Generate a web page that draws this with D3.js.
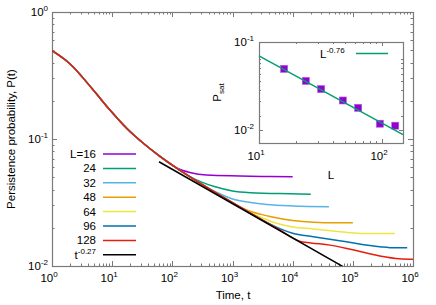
<!DOCTYPE html>
<html><head><meta charset="utf-8">
<script src="https://cdn.jsdelivr.net/npm/d3@7"></script>
<style>body{margin:0;background:#fff}svg{display:block}text{font-family:"Liberation Sans",Arial,sans-serif;fill:#000}</style>
</head><body><svg id="c" width="436" height="305"></svg>
<script>
// ---- data ----
const seriesLabels = ["L=16","24","32","48","64","96","128"];
const seriesColors = ["#9400d3","#009e73","#56b4e9","#e69f00","#f0e442","#0072b2","#e51e10"];
// shared early-time curve (all sizes coincide)
const commonCurve = [[1,0.496],[2,0.39],[4.85,0.243],[9.2,0.169],[17.4,0.1214],[32.9,0.0925],[62.2,0.073],[118,0.0591],[200,0.0502],[371,0.0418],[700,0.0349],[1325,0.0292],[3000,0.0233],[6130,0.0192],[13000,0.01567]];
const departT = [118,200,400,1400,2000,3500,13000];
const tail16 = [[196,0.0545],[371,0.052],[1325,0.0511],[3000,0.0507],[10000,0.0505]];
const tail24 = [[300,0.046],[500,0.0422],[1000,0.039],[2000,0.0378],[9000,0.037],[20000,0.0367]];
const tail32 = [[600,0.0372],[1000,0.0337],[2000,0.0316],[3700,0.0305],[10000,0.0297],[40000,0.0293]];
const tail48 = [[1950,0.027],[3000,0.0255],[4200,0.0245],[10000,0.0228],[17000,0.0223],[40000,0.0219],[100000,0.0219]];
const tail64 = [[3000,0.0241],[5400,0.0217],[10000,0.0203],[22000,0.0196],[78000,0.0184],[200000,0.018],[500000,0.018]];
const tail96 = [[6130,0.0197],[10000,0.0181],[22000,0.017],[78500,0.0155],[280000,0.0142],[500000,0.0139],[800000,0.0139]];
const tail128 = [[20000,0.0152],[41700,0.0146],[100000,0.0134],[280000,0.012],[600000,0.0114],[1000000,0.0113]];
const tails = [tail16,tail24,tail32,tail48,tail64,tail96,tail128];
const mainFit = {amp:0.2, exp:-0.27, tMin:60, label:"t", sup:"-0.27"};
// inset
const insetL = [16,24,32,48,64,96,128];
const insetPsat = [0.0497,0.0363,0.0293,0.0218,0.018,0.0119,0.0113];
const insetFit = {amp:0.40, exp:-0.76};
const xMajor = [1,10,100,1e3,1e4,1e5,1e6];
const xMajorExp = ["0","1","2","3","4","5","6"];
const yMajor = [0.01,0.1,1];
const yMajorExp = ["-2","-1","0"];

// ---- drawing ----
const svg = d3.select("#c");
const FONT = 11.5, SUP = 8;
const M = {l:52, r:413, t:12, b:266};
const x = d3.scaleLog().domain([1,1e6]).range([M.l,M.r]);
const y = d3.scaleLog().domain([0.01,1]).range([M.b,M.t]);
const border = "#7a7a7a";

function minors(lo, hi){ const out=[]; for(let d=lo; d<hi; d*=10){ for(let k=2;k<=9;k++){ const v=d*k; if(v<hi) out.push(v);} } return out; }

function frame(g, xs, ys, xdom, ydom, majLen, minLen){
  const [x0,x1]=xs.range(), [y0,y1]=ys.range();
  const xmin = minors(xdom[0], xdom[1]*1.0001).filter(v=>v>=xdom[0]&&v<=xdom[1]);
  const ymin = minors(ydom[0]/10, ydom[1]).filter(v=>v>=ydom[0]&&v<=ydom[1]);
  const xmaj = d3.range(Math.ceil(Math.log10(xdom[0])-1e-9), Math.floor(Math.log10(xdom[1])+1e-9)+1).map(e=>Math.pow(10,e));
  const ymaj = d3.range(Math.ceil(Math.log10(ydom[0])-1e-9), Math.floor(Math.log10(ydom[1])+1e-9)+1).map(e=>Math.pow(10,e));
  const tg = g.append("g").attr("stroke",border).attr("stroke-width",1);
  const xt = xmaj.map(v=>[v,majLen]).concat(xmin.map(v=>[v,minLen]));
  const yt = ymaj.map(v=>[v,majLen]).concat(ymin.map(v=>[v,minLen]));
  xt.forEach(([v,l])=>{ const px=Math.round(xs(v))+0.5;
    tg.append("line").attr("x1",px).attr("x2",px).attr("y1",y0).attr("y2",y0-l);
    tg.append("line").attr("x1",px).attr("x2",px).attr("y1",y1).attr("y2",y1+l); });
  yt.forEach(([v,l])=>{ const py=Math.round(ys(v))+0.5;
    tg.append("line").attr("y1",py).attr("y2",py).attr("x1",x0).attr("x2",x0+l);
    tg.append("line").attr("y1",py).attr("y2",py).attr("x1",x1).attr("x2",x1-l); });
  g.append("rect").attr("x",x0+0.5).attr("y",y1+0.5).attr("width",x1-x0).attr("height",y0-y1)
    .attr("fill","none").attr("stroke",border).attr("stroke-width",1.2);
}

function powLabel(g, px, py, exp, anchor){
  const t = g.append("text").attr("x",px).attr("y",py).attr("text-anchor",anchor).attr("font-size",FONT);
  t.append("tspan").text("10");
  t.append("tspan").attr("font-size",SUP).attr("dy",-5).text(exp);
  return t;
}

// main frame
const gm = svg.append("g");
gm.append("rect").attr("x",M.l).attr("y",M.t).attr("width",M.r-M.l).attr("height",M.b-M.t).attr("fill","#fff");
frame(gm, x, y, [1,1e6], [0.01,1], 5, 2.5);

// curves
const clip = svg.append("clipPath").attr("id","clipMain").append("rect")
  .attr("x",M.l).attr("y",M.t).attr("width",M.r-M.l).attr("height",M.b-M.t);
const line = d3.line().x(d=>x(d[0])).y(d=>y(d[1])).curve(d3.curveMonotoneX);
const gc = svg.append("g").attr("clip-path","url(#clipMain)");
tails.forEach((tail,i)=>{
  const pts = commonCurve.filter(p=>p[0]<=departT[i]).concat(tail.filter(p=>p[0]>departT[i]));
  gc.append("path").attr("d",line(pts)).attr("fill","none").attr("stroke",seriesColors[i]).attr("stroke-width",1.5);
});
const tEnd = Math.pow(0.01/mainFit.amp, 1/mainFit.exp)*1.05;
gc.append("line").attr("x1",x(mainFit.tMin)).attr("y1",y(mainFit.amp*Math.pow(mainFit.tMin,mainFit.exp)))
  .attr("x2",x(tEnd)).attr("y2",y(mainFit.amp*Math.pow(tEnd,mainFit.exp)))
  .attr("stroke","#000").attr("stroke-width",1.5);

// main tick labels
xMajor.forEach((v,i)=>{ powLabel(svg, x(v)-3, 282, xMajorExp[i], "middle"); });
yMajor.forEach((v,i)=>{ powLabel(svg, 48, y(v)+4, yMajorExp[i], "end"); });

// axis titles
svg.append("text").attr("x",233).attr("y",299).attr("text-anchor","middle").attr("font-size",FONT).text("Time, t");
svg.append("text").attr("transform",`translate(15,${(M.t+M.b)/2}) rotate(-90)`).attr("text-anchor","middle")
  .attr("font-size",FONT).text("Persistence probability, P(t)");

// legend
const lg = svg.append("g");
const legY0 = 154, legStep = 14.4;
seriesLabels.forEach((lab,i)=>{
  const yy = legY0 + i*legStep;
  lg.append("text").attr("x",96).attr("y",yy+4).attr("text-anchor","end").attr("font-size",FONT).text(lab);
  lg.append("line").attr("x1",103).attr("x2",136).attr("y1",yy).attr("y2",yy).attr("stroke",seriesColors[i]).attr("stroke-width",1.5);
});
{
  const yy = legY0 + 7*legStep;
  const t = lg.append("text").attr("x",96).attr("y",yy+4).attr("text-anchor","end").attr("font-size",FONT);
  t.append("tspan").text(mainFit.label);
  t.append("tspan").attr("font-size",SUP).attr("dy",-5).text(mainFit.sup);
  lg.append("line").attr("x1",103).attr("x2",136).attr("y1",yy).attr("y2",yy).attr("stroke","#000").attr("stroke-width",1.5);
}

// ---- inset ----
const I = {l:259, r:403, t:42, b:143};
const xi = d3.scaleLog().domain([10,148]).range([I.l,I.r]);
const yi = d3.scaleLog().domain([0.0072,0.1]).range([I.b,I.t]);
const gi = svg.append("g");
gi.append("rect").attr("x",I.l).attr("y",I.t).attr("width",I.r-I.l).attr("height",I.b-I.t).attr("fill","#fff");
frame(gi, xi, yi, [10,148], [0.0072,0.1], 4, 2);
const sq = 7;
gi.selectAll("rect.pt").data(insetL).enter().append("rect").attr("class","pt")
  .attr("x",(d)=>xi(d)-sq/2).attr("y",(d,i)=>yi(insetPsat[i])-sq/2).attr("width",sq).attr("height",sq)
  .attr("fill","#9400d3").attr("stroke","#b455e0").attr("stroke-width",0.6);
gi.append("line").attr("x1",xi(10)).attr("y1",yi(insetFit.amp*Math.pow(10,insetFit.exp)))
  .attr("x2",xi(148)).attr("y2",yi(insetFit.amp*Math.pow(148,insetFit.exp)))
  .attr("stroke","#009e73").attr("stroke-width",1.5);
powLabel(svg, xi(10)-3, 160, "1", "middle");
powLabel(svg, xi(100)-3, 160, "2", "middle");
powLabel(svg, 254, yi(0.1)+4, "-1", "end");
powLabel(svg, 254, yi(0.01)+4, "-2", "end");
svg.append("text").attr("x",331).attr("y",179).attr("text-anchor","middle").attr("font-size",FONT).text("L");
{
  const t = svg.append("text").attr("transform",`translate(221,${(I.t+I.b)/2}) rotate(-90)`).attr("text-anchor","middle").attr("font-size",FONT);
  t.append("tspan").text("P");
  t.append("tspan").attr("font-size",SUP).attr("dy",3).text("sat");
  const t2 = svg.append("text").attr("x",320).attr("y",58).attr("font-size",FONT);
  t2.append("tspan").text("L");
  t2.append("tspan").attr("font-size",SUP).attr("dy",-5).text("-" + Math.abs(insetFit.exp).toFixed(2));
  svg.append("line").attr("x1",356).attr("x2",388).attr("y1",53.5).attr("y2",53.5).attr("stroke","#009e73").attr("stroke-width",1.5);
}
</script></body></html>
